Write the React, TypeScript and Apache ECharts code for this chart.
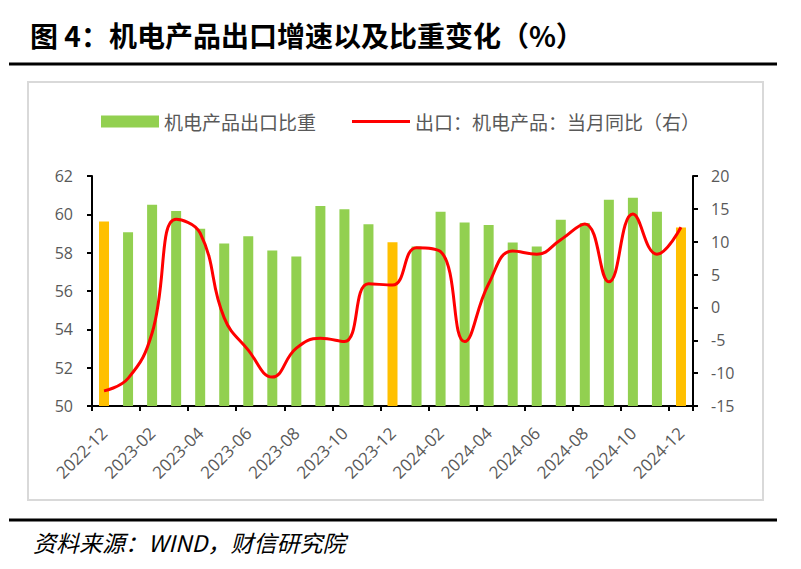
import React, { useEffect, useRef } from "react";
import * as echarts from "echarts";

const categories = [
  "2022-12", "2023-01", "2023-02", "2023-03", "2023-04", "2023-05", "2023-06",
  "2023-07", "2023-08", "2023-09", "2023-10", "2023-11", "2023-12",
  "2024-01", "2024-02", "2024-03", "2024-04", "2024-05", "2024-06",
  "2024-07", "2024-08", "2024-09", "2024-10", "2024-11", "2024-12",
];

const shareValues = [
  59.62, 59.06, 60.5, 60.17, 59.25, 58.48, 58.86, 58.11, 57.8, 60.43, 60.27, 59.48, 58.55,
  58.32, 60.13, 59.58, 59.44, 58.53, 58.32, 59.72, 59.55, 60.76, 60.86, 60.13, 59.31,
];

const yoyValues = [
  -12.7, -10.8, -3.9, 13.4, 11.3, -1.6, -6.5, -10.6, -6.2, -4.7, -5.2, 3.6, 3.4,
  9.1, 8.5, -5.2, 3.6, 8.6, 8.1, 10.3, 12.7, 3.9, 14.2, 8.1, 12.2,
];

const highlightMonths = ["2022-12", "2023-12", "2024-12"];

const leftTicks = { min: 50, max: 62, interval: 2 };
const rightTicks = { min: -15, max: 20, interval: 5 };

const shareName = "机电产品出口比重";
const yoyName = "出口：机电产品：当月同比（右）";
const titleText = "图 4：机电产品出口增速以及比重变化（%）";
const sourceText = "资料来源：WIND，财信研究院";

export default function App() {
  const ref = useRef<HTMLDivElement>(null);
  useEffect(() => {
    if (!ref.current) return;
    const chart = echarts.init(ref.current, null, { renderer: "svg" });
    const cjk = "'Noto Sans CJK SC', sans-serif";
    const axisFont = "'Open Sans', 'Noto Sans CJK SC', sans-serif";
    chart.setOption({
      animation: false,
      backgroundColor: "#ffffff",
      graphic: [
        {
          type: "text",
          left: 30,
          top: 21,
          style: {
            text: titleText,
            font: "bold 28px 'Noto Sans CJK SC', sans-serif",
            fill: "#000",
          },
        },
        {
          type: "line",
          shape: { x1: 9, y1: 64, x2: 777, y2: 64 },
          style: { stroke: "#000", lineWidth: 3 },
        },
        {
          type: "rect",
          shape: { x: 28, y: 82, width: 735, height: 418 },
          style: { fill: "none", stroke: "#d9d9d9", lineWidth: 2 },
        },
        {
          type: "line",
          shape: { x1: 9, y1: 520, x2: 777, y2: 520 },
          style: { stroke: "#000", lineWidth: 3 },
        },
        {
          type: "text",
          left: 33,
          top: 530,
          style: {
            text: sourceText,
            font: "italic 23px 'Noto Sans CJK SC', serif",
            fill: "#000",
          },
        },
      ],
      legend: {
        left: 96,
        top: 107,
        itemWidth: 58,
        itemHeight: 12,
        itemGap: 36,
        textStyle: { fontFamily: cjk, fontSize: 19, color: "#595959" },
        data: [
          { name: shareName, icon: "rect", itemStyle: { color: "#92D050" } },
          {
            name: yoyName,
            icon: "path://M0 0H60V3H0Z",
            itemStyle: { color: "#FF0000" },
          },
        ],
      },
      grid: { left: 92, right: 108, top: 176, bottom: 163, containLabel: false },
      xAxis: {
        type: "category",
        data: categories,
        boundaryGap: true,
        axisLine: { onZero: false, lineStyle: { color: "#000", width: 2 } },
        axisTick: { show: true, interval: 1, length: 5, lineStyle: { color: "#000", width: 2 } },
        axisLabel: {
          interval: 1,
          rotate: 45,
          margin: 24,
          fontFamily: axisFont,
          fontSize: 17,
          color: "#595959",
        },
      },
      yAxis: [
        {
          type: "value",
          ...leftTicks,
          position: "left",
          splitLine: { show: false },
          axisLine: { show: true, lineStyle: { color: "#000", width: 2 } },
          axisTick: { show: true, length: 5, lineStyle: { color: "#000", width: 2 } },
          axisLabel: { fontFamily: axisFont, fontSize: 16, color: "#595959", margin: 19 },
        },
        {
          type: "value",
          ...rightTicks,
          position: "right",
          splitLine: { show: false },
          axisLine: { show: true, lineStyle: { color: "#000", width: 2 } },
          axisTick: { show: true, length: 5, lineStyle: { color: "#000", width: 2 } },
          axisLabel: { fontFamily: axisFont, fontSize: 16, color: "#595959", margin: 18 },
        },
      ],
      series: [
        {
          name: shareName,
          type: "bar",
          yAxisIndex: 0,
          barWidth: 10,
          itemStyle: { color: "#92D050" },
          data: shareValues.map((v, i) =>
            highlightMonths.includes(categories[i])
              ? { value: v, itemStyle: { color: "#FFC000" } }
              : v
          ),
        },
        {
          name: yoyName,
          type: "line",
          yAxisIndex: 1,
          smooth: 0.45,
          symbol: "none",
          lineStyle: { color: "#FF0000", width: 3 },
          itemStyle: { color: "#FF0000" },
          data: yoyValues,
          z: 5,
        },
      ],
    });
    return () => chart.dispose();
  }, []);
  return (
    <div
      ref={ref}
      style={{ position: "absolute", left: 0, top: 0, width: 801, height: 569 }}
    />
  );
}
